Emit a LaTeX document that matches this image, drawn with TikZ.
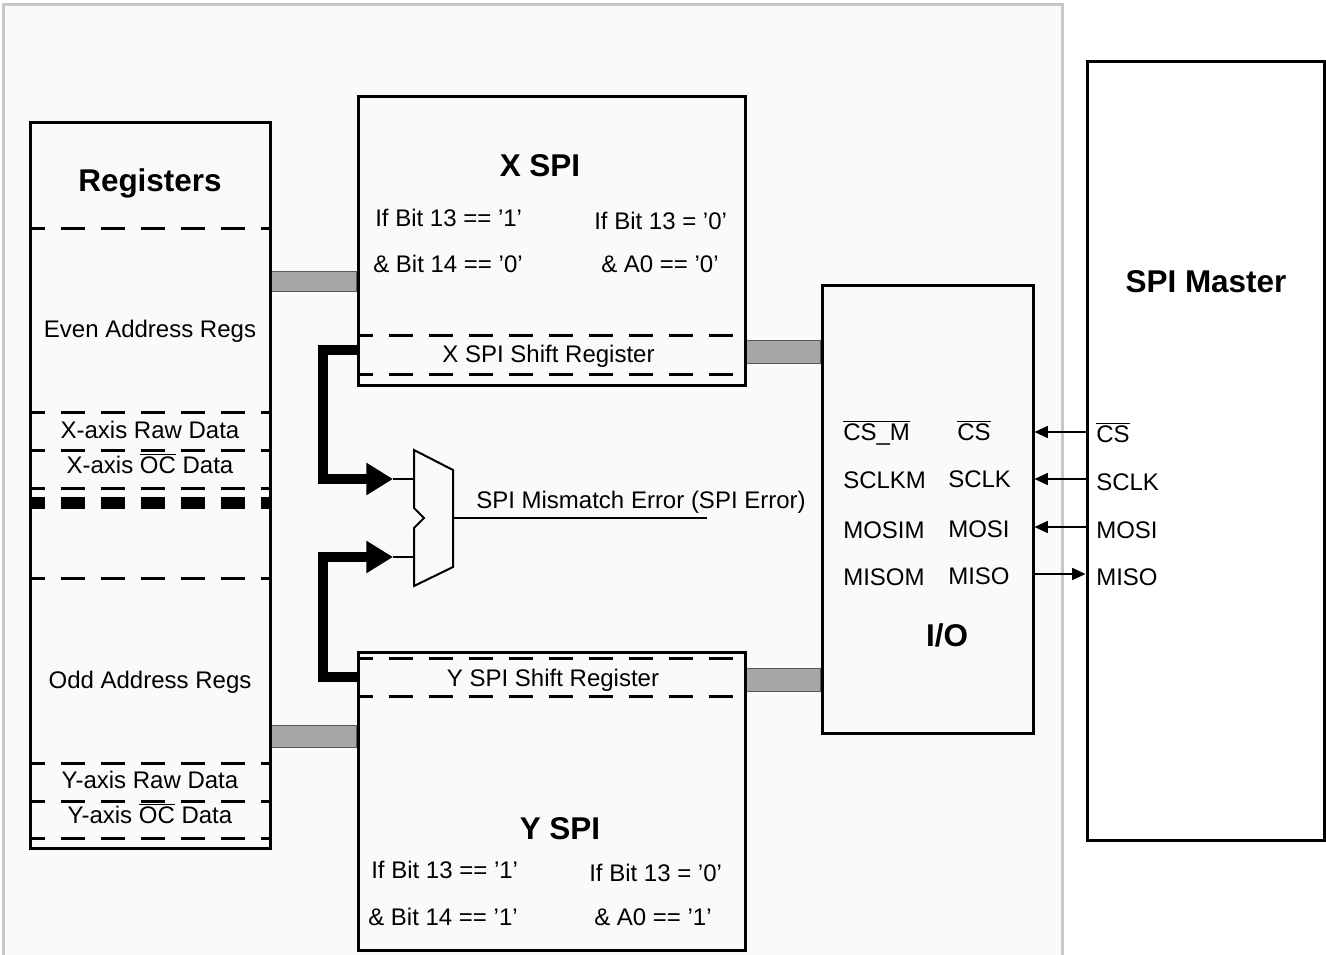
\documentclass[tikz,border=0pt]{standalone}
\usepackage{fontspec}
\setmainfont{Liberation Sans}
\usetikzlibrary{arrows.meta,backgrounds}
\definecolor{panel}{HTML}{FAFAFA}
\definecolor{panelrule}{HTML}{C8C8C8}
\definecolor{busgray}{HTML}{A6A6A6}
\newcommand{\ovl}[1]{$\overline{\mbox{#1}}$}

\begin{document}
\begin{tikzpicture}[x=0.75pt,y=-0.75pt,>={Triangle[length=10pt,width=9pt]},
  blk/.style={draw,line width=2.25pt,inner sep=0pt},
  sep/.style={line width=2.25pt,dash pattern=on 18pt off 12pt,dash phase=6pt},
  bar/.style={draw=black!65,fill=busgray,line width=0.75pt},
  lbl/.style={font={\fontsize{18}{21}\selectfont},inner sep=0pt,anchor=base},
  ttl/.style={font={\fontsize{23.6}{28}\selectfont\bfseries},inner sep=0pt,anchor=base},
  pin/.style={lbl,anchor=base west},
  wire/.style={line width=1.1pt},
  pinarr/.style={line width=1.2pt},
  bus/.style={line width=7.5pt,-{Triangle[length=20pt,width=23pt]}}]
\clip (0,0) rectangle (1326,955);
% blocks
\node[blk,minimum width=180pt,minimum height=543.75pt] (regs) at (150,485.5) {};
\node[blk,minimum width=290.25pt,minimum height=216pt] (xspi) at (551.5,241) {};
\node[blk,minimum width=290.25pt,minimum height=223.5pt] (yspi) at (551.5,801) {};
\node[blk,minimum width=158.25pt,minimum height=335.25pt] (io) at (927.5,509.5) {};
\node[blk,minimum width=178.1pt,minimum height=583.5pt] (master) at (1205.75,451) {};
% register map
\foreach \y in {229,412,450,488,578,763,801,838}
  \draw[sep] (regs.west |- 0,\y) -- (regs.east |- 0,\y);
\draw[sep,line width=9pt] (regs.west |- 0,503) -- (regs.east |- 0,503);
\node[ttl] (regt) at (150,192) {Registers};
\node[lbl] (even) at (150,337) {Even Address Regs};
\node[lbl] (xraw) at (150,438) {X-axis Raw Data};
\node[lbl] (xoc) at (150,473) {X-axis \ovl{OC} Data};
\node[lbl] (odd) at (150,688) {Odd Address Regs};
\node[lbl] (yraw) at (150,788) {Y-axis Raw Data};
\node[lbl] (yoc) at (150,823) {Y-axis \ovl{OC} Data};
% X SPI
\foreach \y in {335,374}
  \draw[sep] (xspi.west |- 0,\y) -- (xspi.east |- 0,\y);
\node[ttl] (xt) at (540,177) {X SPI};
\node[pin] (xc1) at (375,227) {If Bit 13 == ’1’};
\node[pin] (xc2) at (373,273) {\& Bit 14 == ’0’};
\node[pin] (xc3) at (594,230) {If Bit 13 = ’0’};
\node[pin] (xc4) at (601,273) {\& A0 == ’0’};
\node[lbl] (xsr) at (548.5,362) {X SPI Shift Register};
% Y SPI
\foreach \y in {658,696}
  \draw[sep] (yspi.west |- 0,\y) -- (yspi.east |- 0,\y);
\node[lbl] (ysr) at (553,686) {Y SPI Shift Register};
\node[ttl] (yt) at (560,839) {Y SPI};
\node[pin] (yc1) at (371,878) {If Bit 13 == ’1’};
\node[pin] (yc2) at (368,925) {\& Bit 14 == ’1’};
\node[pin] (yc3) at (589,881) {If Bit 13 = ’0’};
\node[pin] (yc4) at (594,925) {\& A0 == ’1’};
% I/O and master pins
\node[ttl] (iot) at (947,646) {I/O};
\node[pin] (csm) at (843,440) {\ovl{CS\_M}};
\node[pin] (sclkm) at (843,488) {SCLKM};
\node[pin] (mosim) at (843,538) {MOSIM};
\node[pin] (misom) at (843,585) {MISOM};
\node[pin] (cs) at (957,440) {\ovl{CS}};
\node[pin] (sclk) at (948,487) {SCLK};
\node[pin] (mosi) at (948,537) {MOSI};
\node[pin] (miso) at (948,584) {MISO};
\node[ttl] (mt) at (1206,292) {SPI Master};
\node[pin] (mcs) at (1096,442) {\ovl{CS}};
\node[pin] (msclk) at (1096,490) {SCLK};
\node[pin] (mmosi) at (1096,538) {MOSI};
\node[pin] (mmiso) at (1096,585) {MISO};
\draw[pinarr,<-] (io.east |- 0,432) -- (master.west |- 0,432);
\draw[pinarr,<-] (io.east |- 0,479) -- (master.west |- 0,479);
\draw[pinarr,<-] (io.east |- 0,527) -- (master.west |- 0,527);
\draw[pinarr,->] (io.east |- 0,574) -- (master.west |- 0,574);
% compare unit
\coordinate (muxa) at (414,479);
\coordinate (muxb) at (414,557);
\coordinate (muxo) at (453,518);
\coordinate (tipa) at (393,479);
\coordinate (tipb) at (393,557);
\coordinate (errend) at (707,518);
\draw[line width=1.5pt] (414,450) -- (453,470) -- (453,567) -- (414,586)
  -- (414,528) -- (424,518) -- (414,508) -- cycle;
\draw[bus] (xspi.west |- 0,350) -| (323,479) -- (tipa);
\draw[bus] (yspi.west |- 0,677) -| (323,557) -- (tipb);
\draw[wire] (tipa) -- (muxa);
\draw[wire] (tipb) -- (muxb);
\draw[wire] (muxo) -- (errend);
\node[lbl] (err) at (641,508) {SPI Mismatch Error (SPI Error)};
% panel and buses
\begin{scope}[on background layer]
\draw[panelrule,fill=panel,line width=2.25pt] (3,4.5) rectangle (1062.5,975);
\draw[bar] (regs.east |- 0,272) rectangle (xspi.west |- 0,292);
\draw[bar] (xspi.east |- 0,340) rectangle (io.west |- 0,363);
\draw[bar] (yspi.east |- 0,668) rectangle (io.west |- 0,691);
\draw[bar] (regs.east |- 0,725) rectangle (yspi.west |- 0,747);
\end{scope}
\end{tikzpicture}
\end{document}
